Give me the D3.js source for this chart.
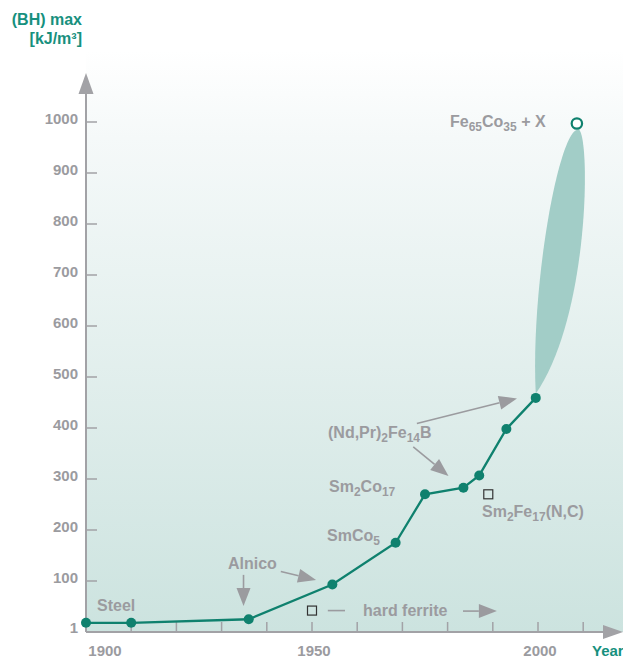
<!DOCTYPE html>
<html><head><meta charset="utf-8">
<script src="https://cdn.jsdelivr.net/npm/d3@7"></script>
<style>
html,body{margin:0;padding:0;background:#fff;}
svg{display:block;font-family:"Liberation Sans",Arial,sans-serif;font-weight:bold;}
</style></head>
<body>
<svg id="c" width="623" height="658"></svg>
<script>
// ---- data ----
const years  = [1900, 1910, 1936, 1954.5, 1968.5, 1975, 1983.5, 1987, 1993, 1999.5];
const values = [18, 18, 25, 93, 175, 270, 283, 307, 398, 459];
const futureYear = 2008.6, futureValue = 1000;
const yTickValues = [1, 100, 200, 300, 400, 500, 600, 700, 800, 900, 1000];
const yTickLabels = ["1", "100", "200", "300", "400", "500", "600", "700", "800", "900", "1000"];
const xTickValues = [1910, 1920, 1930, 1940, 1950, 1960, 1970, 1980, 1990, 2000, 2010];
const xLabelYears = [1900, 1950, 2000];
const xLabelTexts = ["1900", "1950", "2000"];
const squareYears = [1950, 1989];
const squareValues = [42, 270];

const W = 623, H = 658;
const svg = d3.select("#c");
const x = d3.scaleLinear().domain([1900, 2000]).range([86, 538]);
const y = d3.scaleLinear().domain([0, 1000]).range([632, 122]);

const teal = "#0f816e", gray = "#9b9b9f", axisGray = "#a2a2a6", titleTeal = "#17907e";

// background gradient
const defs = svg.append("defs");
const g1 = defs.append("linearGradient").attr("id", "bg").attr("x1", 0).attr("y1", 0).attr("x2", 0).attr("y2", 1);
g1.append("stop").attr("offset", "0%").attr("stop-color", "#ffffff");
g1.append("stop").attr("offset", "15%").attr("stop-color", "#f5f9f9");
g1.append("stop").attr("offset", "100%").attr("stop-color", "#cce3df");
svg.append("rect").attr("x", x(1900)).attr("y", 50).attr("width", W - x(1900)).attr("height", y(0) - 50).attr("fill", "url(#bg)");

// ellipse-like blob (future range)
const blob = d3.path();
const P = (yr, v) => [x(yr), y(v)];
let a = P(1999.5, 467), c1 = [x(1998.3), y(680)], c2 = [x(2004.8), y(995)], t = P(2009.1, 985);
blob.moveTo(...a);
blob.bezierCurveTo(...c1, ...c2, ...t);
blob.bezierCurveTo(x(2011.6), y(965), x(2011.4), y(620), ...a);
svg.append("path").attr("d", blob.toString()).attr("fill", "#a2cdc7");

// axes
svg.append("line").attr("x1", x(1900)).attr("x2", 606).attr("y1", y(0)).attr("y2", y(0)).attr("stroke", axisGray).attr("stroke-width", 2);
svg.append("path").attr("d", `M623,${y(0)} L603,${y(0)-7} L603,${y(0)+7} Z`).attr("fill", axisGray);
svg.append("line").attr("x1", x(1900)).attr("x2", x(1900)).attr("y1", y(0)).attr("y2", 90).attr("stroke", axisGray).attr("stroke-width", 2);
svg.append("path").attr("d", `M${x(1900)},73 L${x(1900)-7.5},94 L${x(1900)+7.5},94 Z`).attr("fill", axisGray);

// y ticks
svg.selectAll(".yt").data(yTickValues.filter(v => v >= 100)).join("line")
  .attr("x1", x(1900)).attr("x2", x(1900) + 11).attr("y1", d => y(d)).attr("y2", d => y(d))
  .attr("stroke", axisGray).attr("stroke-width", 1.5);
svg.selectAll(".yl").data(yTickValues).join("text")
  .attr("x", 78).attr("y", d => y(d) + 2).attr("text-anchor", "end")
  .attr("font-size", 15).attr("fill", gray).text((d, i) => yTickLabels[i]);

// x ticks
svg.selectAll(".xt").data(xTickValues).join("line")
  .attr("x1", d => x(d)).attr("x2", d => x(d)).attr("y1", y(0)).attr("y2", y(0) - 10)
  .attr("stroke", axisGray).attr("stroke-width", 1.5);
svg.selectAll(".xl").data(xLabelYears).join("text")
  .attr("x", d => x(d)).attr("dx", (d, i) => i === 0 ? 19 : 2).attr("y", 656).attr("text-anchor", "middle")
  .attr("font-size", 15).attr("fill", gray).text((d, i) => xLabelTexts[i]);
svg.append("text").attr("x", 592).attr("y", 656).attr("font-size", 15).attr("fill", titleTeal).text("Year");

// y title
svg.append("text").attr("x", 82).attr("y", 25).attr("text-anchor", "end").attr("font-size", 16).attr("fill", titleTeal).text("(BH) max");
svg.append("text").attr("x", 82).attr("y", 44).attr("text-anchor", "end").attr("font-size", 16).attr("fill", titleTeal).text("[kJ/m³]");

// arrows (annotations)
function arrow(yr0, v0, yr1, v1) {
  const x0 = x(yr0), y0 = y(v0), x1 = x(yr1), y1 = y(v1);
  const ang = Math.atan2(y1 - y0, x1 - x0), L = 18, w = 7;
  const bx = x1 - L * Math.cos(ang), by = y1 - L * Math.sin(ang);
  svg.append("line").attr("x1", x0).attr("y1", y0).attr("x2", bx).attr("y2", by).attr("stroke", gray).attr("stroke-width", 1.6);
  const px = -Math.sin(ang) * w, py = Math.cos(ang) * w;
  svg.append("path").attr("d", `M${x1},${y1} L${bx + px},${by + py} L${bx - px},${by - py} Z`).attr("fill", gray);
}
arrow(1934.85, 112, 1934.85, 51);
arrow(1943.1, 118.6, 1950.9, 102);
arrow(1983.4, 41, 1990.9, 41);
arrow(1973.2, 409, 1995.35, 458);
arrow(1972.4, 363, 1980.2, 306);
svg.append("line").attr("x1", x(1953.5)).attr("x2", x(1957.3)).attr("y1", y(42)).attr("y2", y(42)).attr("stroke", gray).attr("stroke-width", 1.6);

// squares
svg.selectAll(".sq").data(squareYears).join("rect")
  .attr("x", d => x(d) - 4.5).attr("y", (d, i) => y(squareValues[i]) - 4.5)
  .attr("width", 9).attr("height", 9).attr("fill", "none").attr("stroke", "#333").attr("stroke-width", 1.2);

// line + points
const pts = years.map((yr, i) => [yr, values[i]]);
svg.append("path").datum(pts).attr("d", d3.line().x(d => x(d[0])).y(d => y(d[1])))
  .attr("fill", "none").attr("stroke", teal).attr("stroke-width", 2.3);
svg.selectAll(".pt").data(pts).join("circle")
  .attr("cx", d => x(d[0])).attr("cy", d => y(d[1])).attr("r", 5).attr("fill", teal);
svg.append("circle").attr("cx", x(futureYear)).attr("cy", y(futureValue) + 1.5).attr("r", 5.2)
  .attr("fill", "#fff").attr("stroke", teal).attr("stroke-width", 2.2);

// labels
function label(xp, yp, parts) {
  const t = svg.append("text").attr("x", xp).attr("y", yp).attr("font-size", 16).attr("fill", gray);
  parts.forEach(p => {
    if (typeof p === "string") t.append("tspan").text(p);
    else t.append("tspan").attr("font-size", 12).attr("baseline-shift", -4).text(p.sub);
  });
}
label(97, 611, ["Steel"]);
label(228, 569, ["Alnico"]);
label(363, 616, ["hard ferrite"]);
label(328, 438, ["(Nd,Pr)", {sub: "2"}, "Fe", {sub: "14"}, "B"]);
label(329, 492, ["Sm", {sub: "2"}, "Co", {sub: "17"}]);
label(327, 541, ["SmCo", {sub: "5"}]);
label(482, 517, ["Sm", {sub: "2"}, "Fe", {sub: "17"}, "(N,C)"]);
label(450, 127, ["Fe", {sub: "65"}, "Co", {sub: "35"}, " + X"]);
</script>
</body></html>
